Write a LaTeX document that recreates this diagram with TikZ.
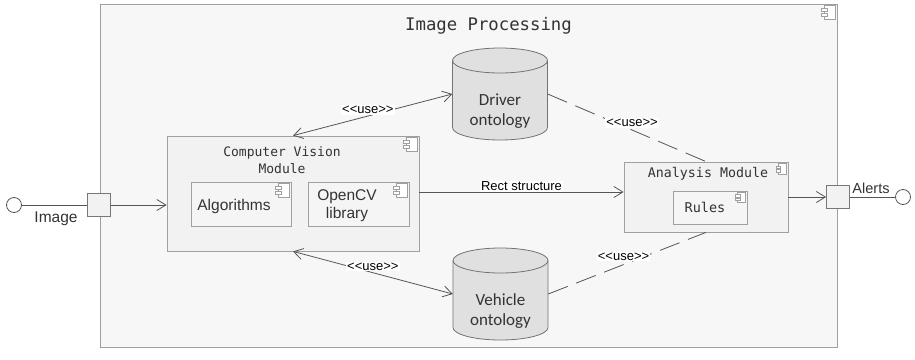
\documentclass[tikz,border=0pt]{standalone}
\usepackage{fontspec}
\setmainfont{Liberation Sans}
\newfontfamily\monofont{DejaVu Sans Mono}
\newfontfamily\calfont{Carlito}
\usetikzlibrary{arrows.meta}

\definecolor{txtgray}{HTML}{333333}
\definecolor{linegray}{HTML}{555555}
\definecolor{boxgray}{HTML}{A0A0A0}

\newcommand{\usetag}{<\kern0pt<use>\kern0pt>}

\tikzset{
  frame/.style={draw=boxgray, fill=black!3, line width=0.8pt},
  module/.style={draw=boxgray, fill=black!5, line width=0.8pt},
  part/.style={draw=boxgray, fill=black!4, line width=0.8pt},
  port/.style={draw=linegray!80, fill=black!5, line width=0.8pt, minimum size=23pt, inner sep=0pt},
  sock/.style={circle, draw=linegray, fill=white, line width=0.8pt, minimum size=15pt, inner sep=0pt},
  db/.style={minimum width=95pt, minimum height=92pt, inner sep=0pt},
  dbline/.style={draw=black!55, fill=black!12, line width=0.8pt},
  dbtext/.style={align=center, font=\calfont\fontsize{17}{20}\selectfont},
  wire/.style={draw=linegray, line width=0.8pt},
  flow/.style={wire, -{Straight Barb[length=9pt,width=11pt]}},
  uses/.style={wire, {Straight Barb[length=9pt,width=11pt]}-{Straight Barb[length=9pt,width=11pt]}},
  dep/.style={wire, dash pattern=on 21pt off 9pt},
  tag/.style={fill=white, inner sep=1pt, text=black, font=\fontsize{13}{15}\selectfont},
}

% little UML component symbol, hung from a corner
\newcommand{\compicon}[2][1]{%
  \begin{scope}[shift={(#2)}, xshift=-2pt, yshift=-2pt, scale=#1, line width=0.6pt]
    \draw[boxgray, fill=white] (-11,0) rectangle (0,14);
    \draw[boxgray, fill=white] (-14,3) rectangle (-8,6);
    \draw[boxgray, fill=white] (-14,8) rectangle (-8,11);
  \end{scope}}

% database drum filling a db node
\newcommand{\drum}[1]{%
  \begin{scope}[shift={(#1.center)}]
    \draw[dbline] (-47.5,-33.5) -- (-47.5,33.5)
      arc[start angle=180, end angle=0, x radius=47.5, y radius=12.5]
      -- (47.5,-33.5) arc[start angle=0, end angle=-180, x radius=47.5, y radius=12.5] -- cycle;
    \draw[dbline, fill=none] (-47.5,-33.5) arc[start angle=180, end angle=0, x radius=47.5, y radius=12.5];
  \end{scope}}

\begin{document}
\begin{tikzpicture}[x=1pt, y=-1pt, text=txtgray]
  \useasboundingbox (0,0) rectangle (915,359);

  % outer component
  \node[frame, minimum width=737pt, minimum height=343pt] (proc) at (468.5,175.5) {};
  \node[font=\monofont\fontsize{17.3}{20}\selectfont] (proctitle) at (488.5,26) {Image Processing};
  \compicon{proc.north east}

  % computer vision module and its parts
  \node[module, minimum width=252pt, minimum height=115pt] (cv) at (293,193.5) {};
  \node[align=center, font=\monofont\fontsize{13}{17}\selectfont] (cvtitle) at (282,160) {Computer Vision\\Module};
  \compicon{cv.north east}
  \node[part, minimum width=100pt, minimum height=44pt] (algo) at (241,204) {};
  \node[font=\fontsize{15.5}{18}\selectfont] (algotext) at (234,206) {Algorithms};
  \compicon{algo.north east}
  \node[part, minimum width=101pt, minimum height=44pt] (ocv) at (358.5,204) {};
  \node[align=center, font=\fontsize{15.5}{18}\selectfont] (ocvtext) at (347,206) {OpenCV\\library};
  \compicon{ocv.north east}

  % analysis module
  \node[module, minimum width=164pt, minimum height=70pt] (ana) at (706,197) {};
  \node[font=\monofont\fontsize{13.3}{16}\selectfont] (anatitle) at (708,174) {Analysis Module};
  \compicon[0.75]{ana.north east}
  \node[part, minimum width=74pt, minimum height=33pt] (rules) at (710,207.5) {};
  \node[font=\monofont\fontsize{13.5}{16}\selectfont] (rulestext) at (705,207) {Rules};
  \compicon[0.7]{rules.north east}

  % ontologies
  \node[db] (driver) at (500,94) {};
  \drum{driver}
  \node[dbtext] (drivertext) at (500,111) {Driver\\ontology};
  \node[db] (vehicle) at (500.5,294) {};
  \drum{vehicle}
  \node[dbtext] (vehicletext) at (500.5,311) {Vehicle\\ontology};

  % ports and interfaces
  \node[port] (inport) at (99,205) {};
  \node[sock] (insock) at (14,205) {};
  \node[font=\fontsize{15.5}{18}\selectfont] (inlabel) at (56,219) {Image};
  \node[port] (outport) at (838,197) {};
  \node[sock] (outsock) at (903,197) {};
  \node[font=\fontsize{14.5}{17}\selectfont] (outlabel) at (871,188) {Alerts};

  \draw[wire] (insock) -- (inport);
  \draw[flow] (inport.east) -- (inport.east -| cv.west);
  \draw[flow] (cv.east |- 0,192) -- (ana.west |- 0,192)
    node[midway, above, tag] {Rect structure};
  \draw[flow] (ana.east) -- (outport.west);
  \draw[wire] (outport) -- (outsock);

  % <<use>> links
  \draw[uses] (cv.north) -- (driver.west) node[pos=0.47, above=1pt, tag] {\usetag};
  \draw[uses] (cv.south) -- (vehicle.west) node[pos=0.5, above=1pt, tag] {\usetag};
  \draw[dep] (driver.east) -- (ana.north) node[pos=0.52, above, xshift=2pt, yshift=1pt, tag] {\usetag};
  \draw[dep] (vehicle.east) -- (ana.south) node[pos=0.49, above, xshift=-2pt, yshift=2pt, tag] {\usetag};
\end{tikzpicture}
\end{document}
